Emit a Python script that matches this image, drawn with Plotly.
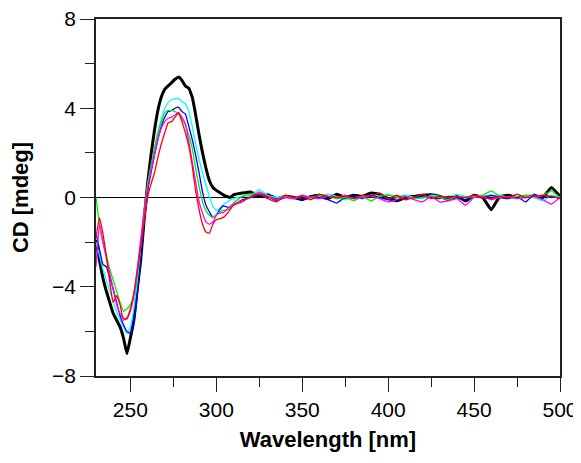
import plotly.graph_objects as go

# Wavelength grid (nm)
wl_main = [230, 232, 234, 236, 238, 240, 242, 244, 246, 248, 250, 252, 254, 256, 258, 260,
           262, 264, 266, 268, 270, 272, 274, 276, 278, 280, 282, 284, 286, 288, 290, 292,
           294, 296, 298, 300, 302, 304, 306, 308, 310]
wl_flat = [315, 320, 325, 330, 335, 340, 345, 350, 355, 360, 365, 370, 375, 380, 385, 390,
           395, 400, 405, 410, 415, 420, 425, 430, 435, 440, 445, 450, 455, 460, 465, 470,
           475, 480, 485, 490, 495, 500]
wavelength = wl_main + wl_flat

black = [-1.9, -2.8, -3.6, -4.2, -4.7, -5.2, -5.5, -5.8, -6.3, -7.0, -6.3, -5.5, -4.1, -2.8, -1.0, 0.6,
         1.9, 3.0, 3.9, 4.5, 4.85, 5.0, 5.15, 5.3, 5.4, 5.25, 5.0, 4.9, 4.5, 3.7, 2.8, 2.0,
         1.3, 0.75, 0.45, 0.32, 0.22, 0.12, 0.05, 0.0, 0.12,
         0.2, 0.25, 0.05, 0.12, -0.05, 0.05, 0.0, -0.1, 0.05, 0.1, -0.05, 0.15, 0.0, 0.1, 0.05, 0.2,
         0.15, -0.05, -0.15, 0.0, 0.05, 0.1, 0.12, 0.05, -0.1, 0.05, -0.15, 0.1, 0.0, -0.55, 0.05, 0.1,
         0.0, 0.05, 0.05, 0.0, 0.45, 0.05]
cyan = [-2.0, -2.6, -3.2, -3.7, -4.2, -4.7, -5.1, -5.5, -5.8, -6.1, -5.8, -5.0, -3.8, -2.5, -0.9, 0.5,
        1.4, 2.1, 2.9, 3.5, 4.0, 4.25, 4.38, 4.42, 4.45, 4.3, 4.2, 3.85, 3.2, 2.4, 1.7, 1.1,
        0.55, 0.05, -0.4, -0.57, -0.5, -0.33, -0.22, -0.12, -0.05,
        0.05, 0.1, 0.35, 0.1, 0.0, 0.05, -0.05, 0.1, 0.0, 0.05, 0.15, 0.05, -0.1, 0.05, 0.0, 0.1,
        0.05, 0.15, 0.05, 0.1, 0.0, -0.05, 0.1, 0.05, 0.0, 0.15, 0.05, 0.0, 0.1, 0.05, 0.1, 0.0,
        -0.05, 0.05, 0.0, -0.15, 0.1, 0.0]
blue = [-1.6, -2.3, -3.0, -3.1, -3.6, -4.1, -4.7, -5.3, -5.7, -6.0, -6.1, -5.6, -4.4, -2.8, -1.1, 0.3,
        1.1, 1.9, 2.6, 3.2, 3.6, 3.85, 3.9, 4.0, 4.05, 3.85, 3.75, 3.2, 2.6, 1.9, 1.1, 0.25,
        -0.35, -0.65, -0.9, -0.78, -0.55, -0.38, -0.42, -0.45, -0.35,
        -0.1, 0.0, 0.1, 0.05, -0.15, 0.0, 0.05, -0.1, 0.05, 0.0, -0.1, -0.25, 0.0, 0.05, -0.05, 0.1,
        0.0, -0.1, 0.0, 0.05, -0.05, 0.1, 0.0, -0.05, 0.05, 0.0, -0.1, 0.05, 0.0, 0.1, 0.0, -0.05,
        0.05, -0.2, 0.15, 0.0, 0.05, -0.05]
green = [0.0, -1.2, -2.0, -2.6, -3.2, -3.7, -4.2, -4.7, -5.1, -5.0, -4.8, -4.4, -3.5, -2.1, -0.6, 0.6,
         1.4, 2.2, 2.9, 3.4, 3.8, 3.9, 3.9, 3.85, 3.75, 3.5, 3.25, 2.8, 2.2, 1.3, 0.5, -0.2,
         -0.6, -0.8, -0.9, -0.78, -0.65, -0.58, -0.55, -0.5, -0.25,
         0.05, 0.15, 0.2, 0.1, -0.1, 0.05, -0.05, 0.05, 0.0, 0.1, 0.05, -0.05, 0.0, -0.15, 0.05, -0.15,
         0.05, 0.1, 0.0, 0.05, -0.05, 0.0, 0.05, 0.0, -0.1, 0.05, 0.0, 0.05, 0.1, 0.3, 0.05, 0.0,
         0.05, 0.1, 0.05, 0.1, 0.3, 0.0]
magenta = [-3.1, -1.2, -2.0, -2.7, -3.4, -4.1, -4.8, -5.2, -5.4, -5.45, -5.1, -4.4, -3.2, -1.9, -0.6, 0.4,
           1.2, 1.9, 2.6, 3.1, 3.4, 3.55, 3.6, 3.7, 3.8, 3.6, 3.3, 2.5, 1.6, 0.7, -0.2, -0.7,
           -1.1, -1.2, -1.1, -0.8, -0.7, -0.68, -0.55, -0.4, -0.3,
           -0.15, 0.0, 0.25, 0.05, -0.1, 0.0, -0.05, 0.1, 0.0, -0.05, 0.05, 0.0, 0.1, -0.05, 0.0, 0.05,
           -0.05, -0.2, -0.1, 0.05, -0.1, -0.2, 0.05, -0.2, -0.15, -0.05, -0.35, 0.0, 0.05, -0.1, 0.0, 0.05,
           -0.05, 0.0, 0.05, -0.1, -0.3, 0.0]
red = [-1.8, -0.9, -1.6, -2.6, -3.8, -4.7, -4.4, -4.8, -5.5, -5.4, -5.0, -4.3, -3.3, -2.2, -1.1, 0.0,
       0.6, 1.1, 1.8, 2.4, 2.9, 3.35, 3.4, 3.6, 3.8, 3.4, 2.9, 2.3, 1.4, 0.3, -0.55, -1.2,
       -1.55, -1.6, -1.2, -1.0, -0.95, -0.9, -0.75, -0.55, -0.35,
       -0.2, 0.05, 0.15, -0.05, -0.2, 0.1, 0.0, 0.05, -0.1, 0.15, 0.05, 0.0, 0.05, -0.05, 0.1, 0.05,
       0.2, -0.05, 0.1, -0.1, 0.0, 0.15, -0.05, 0.05, 0.0, 0.05, 0.0, 0.1, 0.0, -0.05, 0.05, 0.0,
       0.15, 0.0, 0.05, 0.1, 0.05, -0.05]

series = [
    ("black", black, "#000000", 3.0),
    ("cyan", cyan, "#00FFFF", 1.3),
    ("blue", blue, "#0000FF", 1.3),
    ("green", green, "#00F000", 1.3),
    ("magenta", magenta, "#FF00FF", 1.3),
    ("red", red, "#FF0000", 1.3),
]

FONT = "Liberation Sans, Arial, sans-serif"

fig = go.Figure()
for name, vals, col, w in series:
    fig.add_trace(go.Scatter(x=wavelength, y=vals, mode="lines", name=name,
                             line=dict(color=col, width=w, shape="spline", smoothing=0.3)))

axis_common = dict(
    showline=True, linecolor="#222222", linewidth=1.5, mirror=True,
    ticks="outside", ticklen=14, tickwidth=1.2, tickcolor="#222222",
    showgrid=False, automargin=False, ticklabeloverflow="allow",
    tickfont=dict(family=FONT, size=21, color="#000000"),
)

fig.update_xaxes(
    range=[230, 500], tick0=0, dtick=50,
    minor=dict(ticks="outside", ticklen=9, dtick=25, tick0=0, tickcolor="#222222", tickwidth=1.2),
    zeroline=False,
    title=dict(text="<b>Wavelength [nm]</b>", standoff=12,
               font=dict(family=FONT, size=22, color="#000000")),
    **axis_common,
)
fig.update_yaxes(
    range=[-8, 8], tick0=0, dtick=4,
    minor=dict(ticks="outside", ticklen=9, dtick=2, tick0=0, tickcolor="#222222", tickwidth=1.2),
    zeroline=True, zerolinecolor="#000000", zerolinewidth=1.2,
    title=dict(text="<b>CD [mdeg]</b>", standoff=20,
               font=dict(family=FONT, size=22, color="#000000")),
    **axis_common,
)

# the page body adds an 8 px offset, so the figure is sized to fit the window
fig.update_layout(
    width=573, height=447,
    margin=dict(l=88, r=21, t=11, b=79),
    paper_bgcolor="white", plot_bgcolor="white",
    showlegend=False,
)

fig.write_html("out.html")
